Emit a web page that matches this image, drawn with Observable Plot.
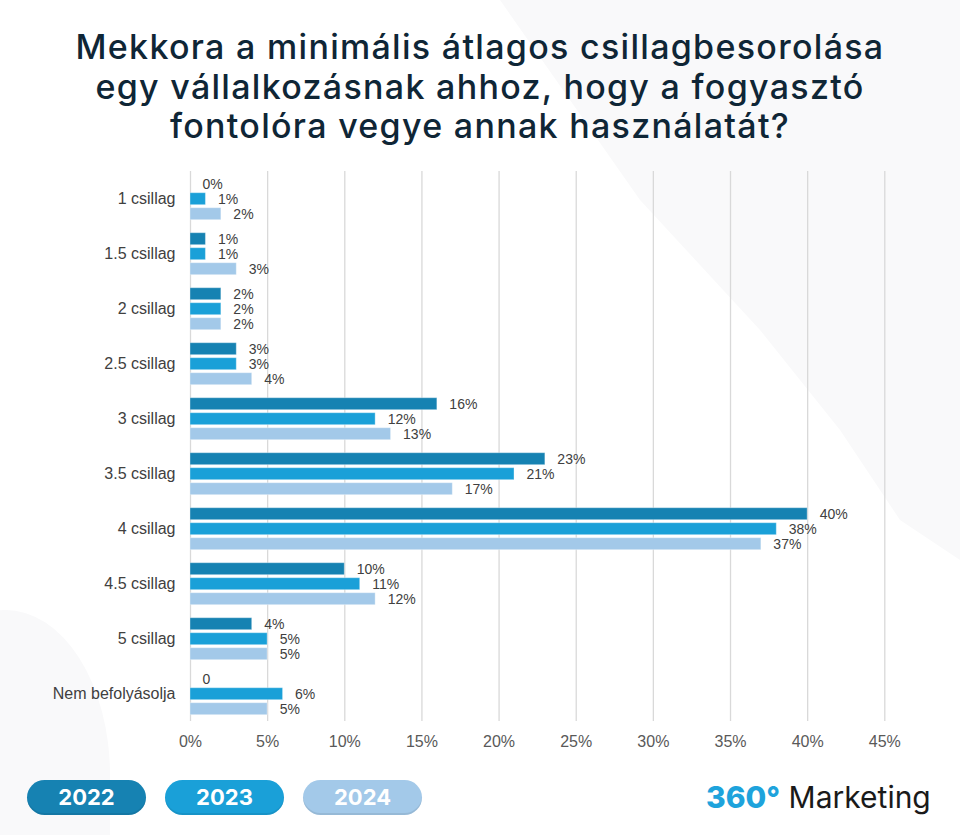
<!DOCTYPE html>
<html>
<head>
<meta charset="utf-8">
<script src="https://cdn.jsdelivr.net/npm/d3@7"></script>
<script src="https://cdn.jsdelivr.net/npm/@observablehq/plot@0.6"></script>
<style>
  html, body { margin: 0; padding: 0; background: #ffffff; }
  #page { position: relative; width: 960px; height: 835px; overflow: hidden; background: #ffffff; }
  .bg1 { position: absolute; left: 0; top: 0; width: 960px; height: 835px; background: #f9f9fa;
    clip-path: polygon(500px 0, 960px 0, 960px 560px, 900px 520px, 840px 430px, 760px 330px, 640px 200px); }
  .bg2 { position: absolute; left: -80px; top: 610px; width: 190px; height: 300px; background: #f9f9fa; border-radius: 45% 55% 0 0; }
  #title { position: absolute; top: 27px; left: 0; width: 960px; text-align: center;
    font-family: Inter, "Open Sans", sans-serif; font-weight: 500; font-size: 34px; line-height: 39.5px;
    color: #0f2636; letter-spacing: 1.3px; }
  #chart { position: absolute; top: 150px; left: 0; }
  #legend { position: absolute; top: 780px; left: 27px; display: flex; gap: 19px; }
  .pill { width: 119px; height: 35px; border-radius: 17.5px; color: #fff; font-family: Inter, Roboto, sans-serif;
    font-weight: 700; font-size: 22px; line-height: 35px; text-align: center; box-shadow: inset 0 -2px 0 rgba(0,0,0,0.08); }
  #brand { position: absolute; top: 777px; left: 706px; font-family: Inter, "Open Sans", sans-serif; font-size: 30px;
    line-height: 40px; color: #1a1a1a; white-space: nowrap; }
  #brand b { color: #1ea3dc; font-weight: 800; }
</style>
</head>
<body>
<div id="page">
  <div class="bg1"></div>
  <div class="bg2"></div>
  <div id="title">Mekkora a minimális átlagos csillagbesorolása<br>egy vállalkozásnak ahhoz, hogy a fogyasztó<br>fontolóra vegye annak használatát?</div>
  <div id="chart"></div>
  <div id="legend"></div>
  <div id="brand"><b>360°</b> Marketing</div>
</div>
<script>
const categories = ["1 csillag", "1.5 csillag", "2 csillag", "2.5 csillag", "3 csillag", "3.5 csillag", "4 csillag", "4.5 csillag", "5 csillag", "Nem befolyásolja"];
const years = ["2022", "2023", "2024"];
const values2022 = [0, 1, 2, 3, 16, 23, 40, 10, 4, 0];
const values2023 = [1, 1, 2, 3, 12, 21, 38, 11, 5, 6];
const values2024 = [2, 3, 2, 4, 13, 17, 37, 12, 5, 5];
const labels2022 = ["0%", "1%", "2%", "3%", "16%", "23%", "40%", "10%", "4%", "0"];
const labels2023 = ["1%", "1%", "2%", "3%", "12%", "21%", "38%", "11%", "5%", "6%"];
const labels2024 = ["2%", "3%", "2%", "4%", "13%", "17%", "37%", "12%", "5%", "5%"];
const colors = ["#1682b2", "#1aa0d8", "#a3c9e9"];
const xTicks = [0, 5, 10, 15, 20, 25, 30, 35, 40, 45];

const seriesValues = [values2022, values2023, values2024];
const seriesLabels = [labels2022, labels2023, labels2024];
const data = [];
categories.forEach((c, i) => {
  years.forEach((y, j) => {
    data.push({category: c, year: y, value: seriesValues[j][i], label: seriesLabels[j][i]});
  });
});

const chart = Plot.plot({
  width: 960,
  height: 620,
  marginTop: 19.3,
  marginBottom: 47.3,
  marginLeft: 190,
  marginRight: 75.7,
  style: {fontFamily: "'Liberation Sans', Arial, sans-serif", fontSize: "16px", color: "#404040", background: "transparent", overflow: "visible"},
  x: {domain: [0, 45], ticks: xTicks, tickFormat: d => d + "%", tickSize: 0, tickPadding: 14, label: null},
  fy: {domain: categories, padding: 0, label: null, axis: "left", tickSize: 0, tickPadding: 15},
  y: {domain: years, paddingInner: 0.1875, paddingOuter: 0.323, axis: null},
  color: {domain: years, range: colors},
  marks: [
    Plot.ruleX(xTicks, {stroke: "#d9d9d9", strokeWidth: 1.3}),
    Plot.barX(data, {x: "value", y: "year", fy: "category", fill: "year", stroke: "#ffffff", strokeOpacity: 0.35, strokeWidth: 1}),
    Plot.text(data, {x: "value", y: "year", fy: "category", text: "label", textAnchor: "start", dx: 12, fill: "#404040", fontSize: 14})
  ]
});
chart.querySelectorAll("[aria-label='x-axis tick label'] text, [aria-label='x-axis tick label']").forEach(e => e.setAttribute("fill", "#595959"));
document.getElementById("chart").appendChild(chart);

const legend = document.getElementById("legend");
years.forEach((y, j) => {
  const d = document.createElement("div");
  d.className = "pill";
  d.style.background = colors[j];
  d.textContent = y;
  legend.appendChild(d);
});
</script>
</body>
</html>
